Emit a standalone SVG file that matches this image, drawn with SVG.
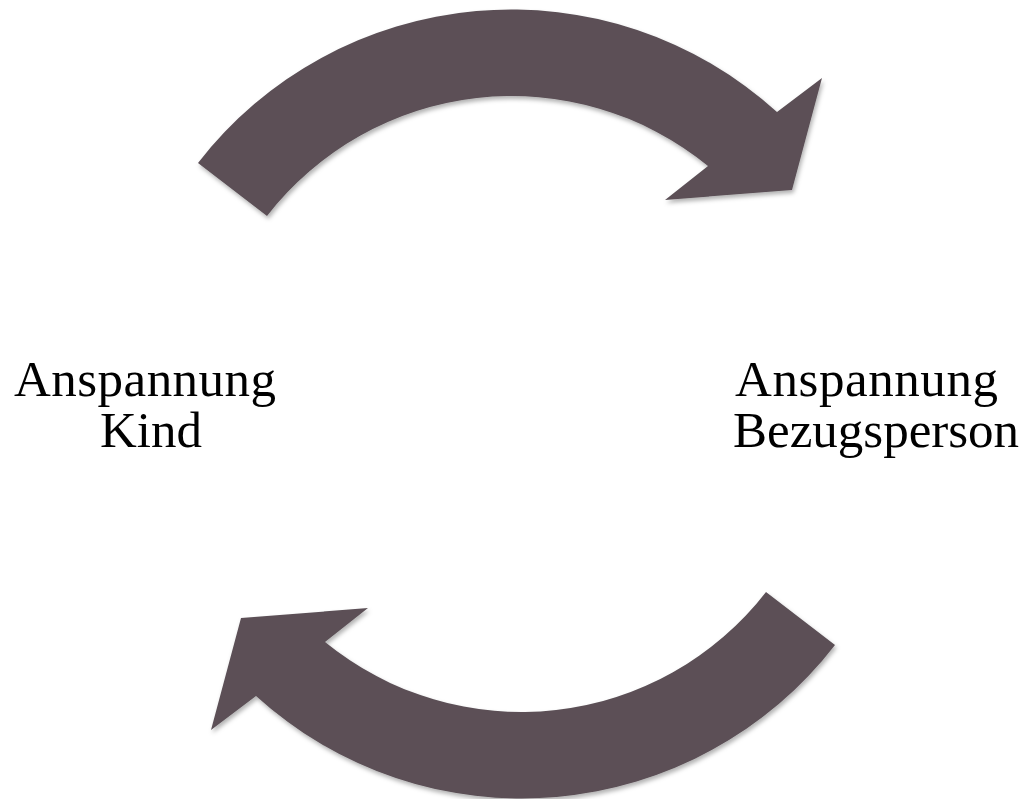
<svg xmlns="http://www.w3.org/2000/svg" width="1024" height="799" viewBox="0 0 1024 799">
  <style>
    .arrow { fill: #5b5056; }
    .label { font-family: "Liberation Serif", "Times New Roman", serif; font-size: 51px; fill: #000; }
  </style>
  <defs>
    <filter id="shadow" x="-10%" y="-10%" width="120%" height="130%">
      <feDropShadow dx="1.5" dy="3" stdDeviation="2" flood-color="#000" flood-opacity="0.3"/>
    </filter>
    <path id="curvedArrow" d="M 198,163 A 396 396 0 0 1 777,112 L 822,78 L 792,190 L 665,200 L 708,166 A 310 310 0 0 0 267,216 Z"/>
  </defs>
  <g id="connectors" filter="url(#shadow)">
    <g id="arrow-top">
      <use href="#curvedArrow" class="arrow"/>
    </g>
    <g id="arrow-bottom">
      <use href="#curvedArrow" class="arrow" transform="rotate(180 516.5 404)"/>
    </g>
  </g>
  <g id="node-kind">
    <text class="label" x="14" y="396" textLength="262" lengthAdjust="spacing">Anspannung</text>
    <text class="label" x="100" y="447">Kind</text>
  </g>
  <g id="node-bezugsperson">
    <text class="label" x="735" y="396" textLength="263" lengthAdjust="spacing">Anspannung</text>
    <text class="label" x="733" y="447">Bezugsperson</text>
  </g>
</svg>
